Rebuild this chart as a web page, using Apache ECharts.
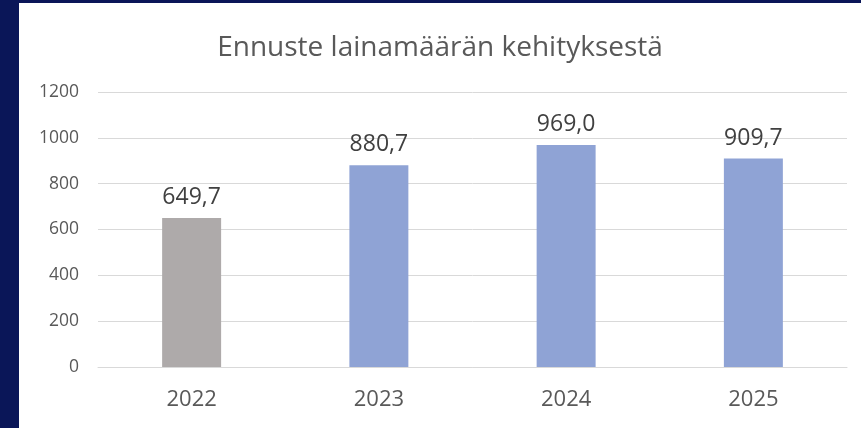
<!DOCTYPE html>
<html>
<head>
<meta charset="utf-8">
<script src="https://cdn.jsdelivr.net/npm/echarts@6/dist/echarts.min.js"></script>
<style>
    html, body { margin: 0; padding: 0; background: #0a1658; }
    #chart { position: absolute; left: 19px; top: 3px; width: 842px; height: 425px; background: #ffffff; }
</style>
</head>
<body>
<div id="chart"></div>
<script>
var years = ['2022', '2023', '2024', '2025'];
var amounts = [649.7, 880.7, 969.0, 909.7];
var barColors = ['#aeaaaa', '#8fa3d5', '#8fa3d5', '#8fa3d5'];

var myChart = echarts.init(document.getElementById('chart'));
var option = {
    animation: false,
    textStyle: { fontFamily: 'Open Sans' },
    title: {
        text: 'Ennuste lainamäärän kehityksestä',
        left: 'center',
        top: 26,
        textStyle: { fontSize: 28, fontWeight: 'normal', color: '#595959', fontFamily: 'Open Sans' }
    },
    grid: { left: 79, right: 14, top: 89, bottom: 61 },
    xAxis: {
        type: 'category',
        data: years,
        axisLine: { lineStyle: { color: '#d9d9d9' } },
        axisTick: { show: false },
        axisLabel: { color: '#595959', fontSize: 22, margin: 22 }
    },
    yAxis: {
        type: 'value',
        min: 0,
        max: 1200,
        interval: 200,
        axisLine: { show: false },
        axisTick: { show: false },
        splitLine: { lineStyle: { color: '#d9d9d9' } },
        axisLabel: {
            color: '#595959',
            fontSize: 17.5,
            margin: 19,
            formatter: function (v) { return String(v); }
        }
    },
    series: [{
        type: 'bar',
        barWidth: '31.5%',
        data: amounts.map(function (v, i) {
            return { value: v, itemStyle: { color: barColors[i] } };
        }),
        label: {
            show: true,
            position: 'top',
            distance: 9,
            color: '#404040',
            fontSize: 23,
            formatter: function (p) { return p.value.toFixed(1).replace('.', ','); }
        }
    }]
};
myChart.setOption(option);
</script>
</body>
</html>
